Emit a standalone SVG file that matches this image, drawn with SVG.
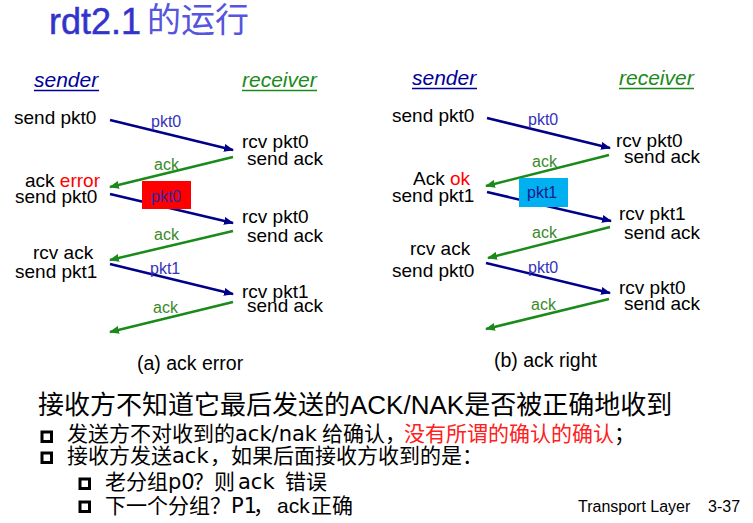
<svg xmlns="http://www.w3.org/2000/svg" width="753" height="523" viewBox="0 0 753 523">
<defs>
<style>
.t{font-family:"Liberation Sans",Arial,sans-serif;font-size:19px;fill:#000}
.lb{font-family:"Liberation Sans",Arial,sans-serif;font-size:16px;fill:#3333bb}
.la{font-family:"Liberation Sans",Arial,sans-serif;font-size:16px;fill:#3a8a2a}
.hd{font-family:"Liberation Sans",Arial,sans-serif;font-size:21px;font-style:italic}
.cn{font-family:"Liberation Sans","Noto Sans CJK SC",sans-serif;fill:#000}
.lt{font-family:"DejaVu Sans",sans-serif}
.bl{stroke:#00008b;stroke-width:2.5;fill:none;marker-end:url(#ab)}
.gr{stroke:#1a8a1a;stroke-width:2.5;fill:none;marker-end:url(#ag)}
.cb{fill:#fff;stroke:#000;stroke-width:3}
</style>
<marker id="ab" markerUnits="userSpaceOnUse" markerWidth="10" markerHeight="8" refX="9" refY="4" orient="auto"><path d="M0,0L10,4L0,8z" fill="#00008b"/></marker>
<marker id="ag" markerUnits="userSpaceOnUse" markerWidth="10" markerHeight="8" refX="9" refY="4" orient="auto"><path d="M0,0L10,4L0,8z" fill="#1a8a1a"/></marker>
</defs>
<rect width="753" height="523" fill="#fff"/>

<g id="title">
<text x="49" y="34" font-family="Liberation Sans,Arial,sans-serif" font-size="36" fill="#3333cc" stroke="#3333cc" stroke-width="0.5">rdt2.1</text>
<text x="147" y="32" font-family="Noto Sans CJK SC,sans-serif" font-size="34" fill="#5555dd">的运行</text>
</g>

<g id="headers">
<text class="hd" x="34" y="87" fill="#000099">sender</text>
<line x1="34" y1="90.5" x2="99" y2="90.5" stroke="#000099" stroke-width="1.3"/>
<text class="hd" x="242" y="87" fill="#1a8a1a">receiver</text>
<line x1="242" y1="90.5" x2="317" y2="90.5" stroke="#1a8a1a" stroke-width="1.3"/>
<text class="hd" x="412" y="85" fill="#000099">sender</text>
<line x1="412" y1="88.5" x2="477" y2="88.5" stroke="#000099" stroke-width="1.3"/>
<text class="hd" x="619" y="85" fill="#1a8a1a">receiver</text>
<line x1="619" y1="88.5" x2="694" y2="88.5" stroke="#1a8a1a" stroke-width="1.3"/>
</g>

<g id="connectors">
<line class="bl" x1="110" y1="120" x2="233" y2="150"/>
<line class="gr" x1="233" y1="157" x2="110" y2="187"/>
<line class="bl" x1="110" y1="194" x2="233" y2="223"/>
<line class="gr" x1="233" y1="231" x2="110" y2="260"/>
<line class="bl" x1="110" y1="264" x2="233" y2="294"/>
<line class="gr" x1="233" y1="302" x2="110" y2="332"/>
<line class="bl" x1="487" y1="118" x2="610" y2="148"/>
<line class="gr" x1="609" y1="155" x2="486" y2="186"/>
<line class="bl" x1="487" y1="192" x2="611" y2="221"/>
<line class="gr" x1="610" y1="227" x2="488" y2="258"/>
<line class="bl" x1="486" y1="263" x2="610" y2="293"/>
<line class="gr" x1="609" y1="299" x2="486" y2="329"/>
</g>

<g id="connector-labels">
<text class="lb" x="151" y="127">pkt0</text>
<text class="la" x="154" y="170">ack</text>
<rect x="142" y="181" width="49" height="28" fill="#ff0000"/>
<text class="lb" x="151" y="202" style="fill:#3322aa">pkt0</text>
<text class="la" x="154" y="240">ack</text>
<text class="lb" x="150" y="274">pkt1</text>
<text class="la" x="153" y="313">ack</text>
<text class="lb" x="528" y="125">pkt0</text>
<text class="la" x="532" y="167">ack</text>
<rect x="519" y="178" width="49" height="29" fill="#00b0f0"/>
<text class="lb" x="527" y="198" style="fill:#1a1a8a">pkt1</text>
<text class="la" x="532" y="238">ack</text>
<text class="lb" x="528" y="273">pkt0</text>
<text class="la" x="531" y="310">ack</text>
</g>

<g id="left-sender">
<text class="t" x="14" y="124">send pkt0</text>
<text class="t" x="25" y="187">ack <tspan fill="#ff0000">error</tspan></text>
<text class="t" x="15" y="203">send pkt0</text>
<text class="t" x="33" y="259">rcv ack</text>
<text class="t" x="15" y="278">send pkt1</text>
</g>
<g id="left-receiver">
<text class="t" x="242" y="148">rcv pkt0</text>
<text class="t" x="247" y="165">send ack</text>
<text class="t" x="242" y="223">rcv pkt0</text>
<text class="t" x="247" y="242">send ack</text>
<text class="t" x="242" y="298">rcv pkt1</text>
<text class="t" x="247" y="312">send ack</text>
</g>
<g id="right-sender">
<text class="t" x="392" y="122">send pkt0</text>
<text class="t" x="413" y="185">Ack <tspan fill="#ff0000">ok</tspan></text>
<text class="t" x="392" y="202">send pkt1</text>
<text class="t" x="410" y="255">rcv ack</text>
<text class="t" x="392" y="277">send pkt0</text>
</g>
<g id="right-receiver">
<text class="t" x="616" y="147">rcv pkt0</text>
<text class="t" x="624" y="163">send ack</text>
<text class="t" x="619" y="220">rcv pkt1</text>
<text class="t" x="624" y="239">send ack</text>
<text class="t" x="619" y="294">rcv pkt0</text>
<text class="t" x="624" y="310">send ack</text>
</g>

<g id="captions">
<text class="t" x="137" y="370" style="font-size:19.5px">(a) ack error</text>
<text class="t" x="494" y="367" style="font-size:19.5px">(b) ack right</text>
</g>

<g id="notes">
<text class="cn" x="38" y="414" font-size="26">接收方不知道它最后发送的ACK/NAK是否被正确地收到</text>
<rect class="cb" x="42" y="432" width="9.5" height="9.5"/>
<text class="cn" x="67" y="441" font-size="21">发送方不对收到的<tspan class="lt">ack/nak</tspan><tspan x="322">给确认，</tspan><tspan x="404" fill="#ff2020">没有所谓的确认的确认</tspan>；</text>
<rect class="cb" x="42" y="453" width="9.5" height="9.5"/>
<text class="cn" x="67" y="463" font-size="21">接收方发送<tspan class="lt">ack</tspan><tspan x="210">，如果后面接收方收到的是：</tspan></text>
<rect class="cb" x="80" y="479" width="9.5" height="9.5"/>
<text class="cn" x="105" y="489" font-size="21">老分组<tspan class="lt">p0</tspan><tspan x="193">？则</tspan><tspan class="lt" x="238">ack</tspan><tspan x="285">错误</tspan></text>
<rect class="cb" x="80" y="502" width="9.5" height="9.5"/>
<text class="cn" x="105" y="513" font-size="21">下一个分组？<tspan class="lt">P1</tspan><tspan x="253">，</tspan><tspan x="277">ack</tspan><tspan x="311">正确</tspan></text>
</g>

<g id="footer">
<text x="578" y="512" font-family="Liberation Sans,Arial,sans-serif" font-size="16" fill="#000">Transport Layer</text>
<text x="708" y="512" font-family="Liberation Sans,Arial,sans-serif" font-size="16" fill="#000">3-37</text>
</g>
</svg>
